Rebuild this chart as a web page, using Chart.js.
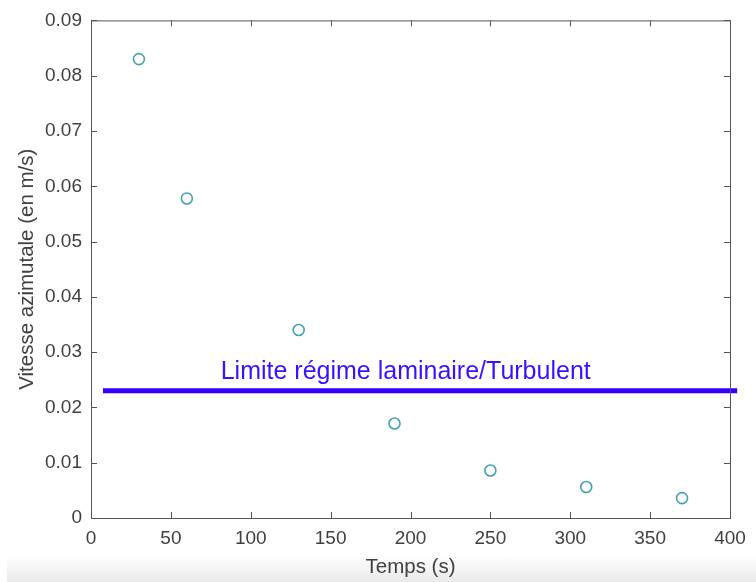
<!DOCTYPE html>
<html>
<head>
<meta charset="utf-8">
<script src="https://cdn.jsdelivr.net/npm/chart.js@4/dist/chart.umd.min.js"></script>
<style>
  html, body { margin: 0; padding: 0; background: #fff; }
  #wrap { position: relative; width: 756px; height: 582px; }
  #band {
    position: absolute; left: 7px; right: 0; top: 555px; bottom: 0;
    background: linear-gradient(#ffffff, #e9e9e9);
  }
  #chart { position: absolute; left: 0; top: 0; }
</style>
</head>
<body>
<div id="wrap">
  <div id="band"></div>
  <canvas id="chart" width="756" height="582"></canvas>
</div>
<script>
// measured speed over time
const times = [30, 60, 130, 190, 250, 310, 370];
const speeds = [0.083, 0.0578, 0.034, 0.0171, 0.0086, 0.0056, 0.0036];

// laminar / turbulent threshold
const limitValue = 0.023;
const limitSpan = [7.5, 404.5];
const limitLabel = 'Limite régime laminaire/Turbulent';

const xLabel = 'Temps (s)';
const yLabel = 'Vitesse azimutale (en m/s)';

const tickColor = '#404040';
const fontFamily = '"Liberation Sans", Arial, Helvetica, sans-serif';

// box around the axes with inward ticks on every side
const boxPlugin = {
  id: 'box',
  afterDraw(chart) {
    const { ctx, chartArea: a, scales } = chart;
    ctx.save();
    ctx.strokeStyle = '#555';
    ctx.lineWidth = 1;
    ctx.strokeRect(a.left + 0.5, a.top + 0.5, a.right - a.left, a.bottom - a.top);
    ctx.beginPath();
    const len = 6;
    scales.x.ticks.forEach(t => {
      const px = Math.round(scales.x.getPixelForValue(t.value)) + 0.5;
      ctx.moveTo(px, a.bottom); ctx.lineTo(px, a.bottom - len);
      ctx.moveTo(px, a.top); ctx.lineTo(px, a.top + len);
    });
    scales.y.ticks.forEach(t => {
      const py = Math.round(scales.y.getPixelForValue(t.value)) + 0.5;
      ctx.moveTo(a.left, py); ctx.lineTo(a.left + len, py);
      ctx.moveTo(a.right, py); ctx.lineTo(a.right - len, py);
    });
    ctx.stroke();

    // threshold caption
    const cx = scales.x.getPixelForValue(197);
    const cy = scales.y.getPixelForValue(limitValue) - 12;
    ctx.fillStyle = '#3a10ff';
    ctx.font = '25px ' + fontFamily;
    ctx.textAlign = 'center';
    ctx.textBaseline = 'alphabetic';
    ctx.fillText(limitLabel, cx, cy);
    ctx.restore();
  }
};

new Chart(document.getElementById('chart'), {
  type: 'scatter',
  data: {
    datasets: [
      {
        data: times.map((t, i) => ({ x: t, y: speeds[i] })),
        pointStyle: 'circle',
        pointRadius: 5.5,
        borderColor: '#45a0b2',
        borderWidth: 1.6,
        backgroundColor: 'rgba(0,0,0,0)'
      },
      {
        type: 'line',
        data: limitSpan.map(x => ({ x: x, y: limitValue })),
        borderColor: '#3300ff',
        borderWidth: 5,
        pointRadius: 0,
        clip: false
      }
    ]
  },
  options: {
    responsive: false,
    animation: false,
    layout: { padding: { top: 17, right: 26, left: 0, bottom: 0 } },
    plugins: { legend: { display: false }, tooltip: { enabled: false } },
    scales: {
      x: {
        type: 'linear',
        min: 0,
        max: 400,
        afterFit: s => { s.height = 64; },
        grid: { display: false, drawTicks: false },
        border: { display: false },
        ticks: {
          stepSize: 50,
          padding: 9,
          color: tickColor,
          font: { family: fontFamily, size: 19 }
        },
        title: {
          display: true,
          text: xLabel,
          color: tickColor,
          padding: { top: 0, bottom: 2 },
          font: { family: fontFamily, size: 20.5 }
        }
      },
      y: {
        min: 0,
        max: 0.09,
        afterFit: s => { s.width = 91; },
        grid: { display: false, drawTicks: false },
        border: { display: false },
        ticks: {
          stepSize: 0.01,
          padding: 9,
          color: tickColor,
          font: { family: fontFamily, size: 19 },
          callback: v => v === 0 ? '0' : v.toFixed(2)
        },
        title: {
          display: true,
          text: yLabel,
          color: tickColor,
          padding: { top: 15, bottom: 0 },
          font: { family: fontFamily, size: 20.5 }
        }
      }
    }
  },
  plugins: [boxPlugin]
});
</script>
</body>
</html>
